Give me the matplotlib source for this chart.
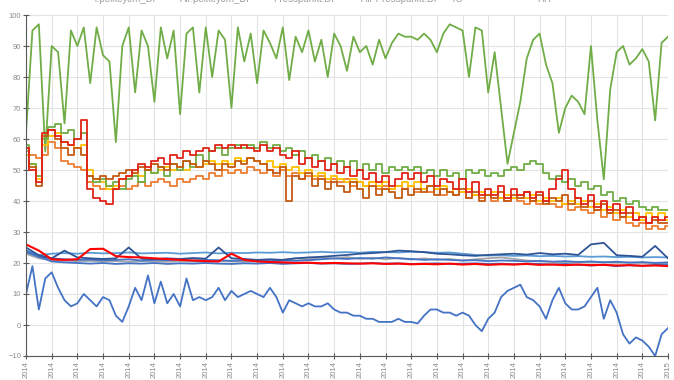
import numpy as np
import matplotlib
matplotlib.use("Agg")
import matplotlib.pyplot as plt

plt.rcParams['font.family'] = ['Liberation Sans', 'DejaVu Sans']

# x positions: 101 samples for detailed series, 51 for the flat ~20 group
x_fine = np.arange(101)
x_coarse = np.arange(0, 101, 2)

tick_labels = ['2014'] * 25 + ['2015']
legend_labels = ['T.pelkeyJm_Di', 'Air.pelkeyJm_Di', 'Presspunkt.Di',
                 'Air Presspunkt.Di', 'TS', 'RH']

rh_top = [62, 95, 97, 56, 90, 88, 65, 95, 90, 96, 78, 96, 87, 85, 59, 90, 96, 75, 95, 90,
          72, 96, 86, 95, 68, 94, 96, 75, 96, 80, 95, 92, 70, 96, 85, 94, 78, 95, 91, 86,
          96, 79, 93, 88, 95, 85, 92, 80, 94, 90, 82, 93, 88, 90, 84, 92, 86, 91, 94, 93,
          93, 92, 94, 92, 88, 94, 97, 96, 95, 80, 96, 95, 75, 88, 70, 52, 62, 72, 86, 92,
          94, 84, 78, 62, 70, 74, 72, 68, 90, 66, 47, 76, 88, 90, 84, 86, 89, 85, 66, 91, 93]

red_mid = [57, 50, 46, 62, 63, 61, 59, 58, 60, 66, 44, 41, 40, 39, 44, 47, 48, 50, 52, 51,
           53, 54, 52, 55, 54, 56, 55, 56, 57, 56, 58, 57, 58, 57, 58, 57, 56, 58, 56, 57,
           55, 54, 56, 52, 54, 51, 53, 50, 52, 49, 51, 48, 50, 47, 49, 46, 48, 45, 47, 49,
           47, 49, 46, 48, 45, 47, 46, 44, 47, 43, 46, 42, 44, 42, 45, 41, 44, 42, 43, 41,
           43, 40, 44, 47, 50, 44, 41, 39, 42, 38, 40, 37, 39, 36, 38, 34, 35, 33, 35, 34, 35]

green_mid = [58, 52, 48, 60, 64, 65, 62, 63, 60, 62, 48, 46, 47, 45, 46, 44, 47, 48, 46, 50,
             49, 51, 48, 52, 50, 53, 51, 55, 53, 56, 57, 55, 57, 58, 57, 58, 57, 59, 57, 58,
             56, 57, 55, 56, 54, 55, 53, 54, 52, 53, 51, 53, 50, 52, 50, 52, 49, 51, 50, 51,
             50, 51, 49, 50, 48, 50, 48, 49, 47, 50, 49, 50, 48, 49, 48, 50, 51, 50, 52, 53,
             52, 49, 47, 48, 46, 47, 45, 46, 44, 45, 42, 43, 40, 41, 39, 40, 38, 37, 38, 37, 37]

yellow_mid = [55, 52, 47, 58, 61, 62, 59, 58, 57, 58, 50, 47, 46, 44, 45, 47, 48, 49, 48, 50,
              49, 50, 51, 50, 51, 50, 52, 51, 52, 53, 52, 53, 52, 54, 53, 54, 53, 52, 53, 51,
              52, 50, 51, 49, 50, 48, 49, 47, 48, 47, 46, 47, 46, 45, 46, 45, 46, 44, 45, 46,
              45, 46, 44, 45, 44, 45, 43, 44, 43, 44, 42, 43, 42, 43, 41, 42, 41, 42, 41, 42,
              40, 41, 40, 41, 39, 40, 39, 40, 38, 39, 37, 38, 36, 37, 35, 36, 34, 36, 35, 36, 34]

brown_mid = [57, 51, 45, 61, 63, 60, 57, 55, 57, 55, 48, 47, 48, 47, 48, 49, 50, 49, 51, 50,
             52, 51, 50, 52, 51, 53, 52, 51, 53, 52, 50, 52, 51, 53, 52, 54, 53, 52, 50, 49,
             51, 40, 48, 47, 49, 45, 47, 44, 46, 45, 43, 46, 44, 41, 45, 42, 44, 43, 41, 44,
             42, 44, 43, 45, 42, 44, 43, 42, 44, 41, 43, 40, 42, 41, 43, 40, 42, 41, 43, 40,
             42, 39, 41, 40, 42, 39, 41, 38, 40, 37, 39, 36, 37, 35, 36, 34, 35, 33, 34, 33, 33]

orange_mid = [56, 55, 54, 55, 59, 57, 53, 52, 51, 50, 46, 45, 44, 45, 44, 45, 44, 45, 46, 45,
              46, 47, 46, 45, 47, 46, 47, 48, 47, 49, 48, 50, 49, 50, 49, 51, 50, 49, 50, 48,
              50, 48, 49, 47, 48, 47, 48, 46, 47, 46, 47, 45, 46, 45, 46, 44, 45, 44, 45, 44,
              45, 43, 44, 43, 44, 42, 43, 42, 43, 41, 42, 41, 42, 40, 41, 40, 41, 40, 39, 40,
              39, 40, 39, 38, 39, 37, 38, 37, 36, 37, 35, 36, 34, 35, 33, 32, 33, 31, 32, 31, 32]

blue_low = [10, 19, 5, 15, 17, 12, 8, 6, 7, 10, 8, 6, 9, 8, 3, 1, 6, 12, 8, 16,
            7, 14, 7, 10, 6, 15, 8, 9, 8, 9, 12, 8, 11, 9, 10, 11, 10, 9, 12, 9,
            4, 8, 7, 6, 7, 6, 6, 7, 5, 4, 4, 3, 3, 2, 2, 1, 1, 1, 2, 1,
            1, 0.5, 3, 5, 5, 4, 4, 3, 4, 3, 0, -2, 2, 4, 9, 11, 12, 13, 9, 8,
            6, 2, 8, 12, 7, 5, 5, 6, 9, 12, 2, 8, 4, -3, -6, -4, -5, -7, -10, -3, -1]

light_blue = [24, 22.5, 23, 23.2, 23, 23.3, 23.1, 23.2, 23.4, 23.1, 23.2, 23.3, 23.0, 23.2,
              23.4, 23.1, 23.3, 23.2, 23.4, 23.3, 23.5, 23.3, 23.4, 23.6, 23.4, 23.5, 23.3,
              23.6, 23.5, 23.4, 23.6, 23.5, 23.3, 23.4, 23.0, 22.6, 22.4, 22.5, 22.3, 22.4,
              22.2, 22.3, 22.1, 22.2, 22.0, 22.1, 21.9, 22.0, 21.8, 21.9, 21.8]

dark_blue = [25, 22.5, 21.5, 24, 21.8, 21.5, 21.3, 21.5, 25, 21.4, 21.2, 21.5, 21.3, 21.6,
             21.4, 25, 21.5, 21.3, 21.0, 21.2, 21.0, 21.5, 21.8, 22.0, 22.3, 22.6, 23.0,
             23.2, 23.5, 24.0, 23.8, 23.5, 23.0, 22.8, 22.5, 22.3, 22.6, 22.8, 23.0, 22.7,
             23.2, 22.8, 23.0, 22.6, 26, 26.5, 22.5, 22.3, 22.0, 25.5, 21.5]

mid_blue = [23.5, 22, 20.5, 20.2, 20.0, 19.8, 20.0, 19.7, 19.9, 19.8, 20.0, 19.7, 19.9, 19.8,
            20.0, 19.8, 19.7, 19.9, 19.8, 20.0, 19.7, 19.9, 20.0, 19.8, 19.9, 19.7, 19.8,
            20.0, 19.8, 19.9, 19.7, 19.8, 19.9, 19.7, 19.8, 19.9, 19.7, 19.8, 19.6, 19.8,
            19.7, 19.5, 19.7, 19.4, 19.2, 19.4, 19.0, 19.3, 19.1, 19.4, 19.5]

steel_blue = [24, 22, 21.5, 21.2, 21.0, 21.1, 20.9, 21.0, 21.2, 20.8, 21.0, 20.9, 21.1, 20.8,
              21.0, 20.9, 20.7, 20.9, 20.8, 20.6, 20.8, 20.7, 20.9, 21.2, 21.5, 21.3, 21.6,
              21.4, 21.8, 21.5, 21.3, 21.0, 21.2, 21.0, 20.8, 20.9, 20.6, 20.8, 20.7, 20.5,
              20.7, 20.4, 20.6, 20.3, 20.5, 20.2, 20.4, 20.1, 20.3, 20.0, 20.2]

grey_line = [23, 21.5, 21, 20.8, 20.6, 20.7, 20.5, 20.6, 20.4, 20.6, 20.5, 20.4, 20.6, 20.5,
             20.4, 20.6, 20.5, 20.4, 20.6, 20.5, 21.0, 21.5, 21.2, 21.8, 21.4, 21.9, 21.3,
             21.7, 21.2, 21.6, 21.1, 21.5, 21.0, 21.3, 20.8, 21.2, 21.5, 21.8, 21.3, 20.8,
             20.5, 20.4, 20.3, 20.4, 20.2, 20.3, 20.1, 20.2, 20.0, 20.1, 20.0]

red_low = [26, 24, 21.2, 21.0, 21.2, 24.5, 24.6, 22.2, 21.9, 21.8, 21.5, 21.3, 21.0, 20.8,
           20.6, 20.5, 23.0, 21.0, 20.5, 20.3, 20.2, 20.0, 20.1, 19.9, 20.0, 19.9, 19.8,
           19.9, 19.7, 19.8, 19.6, 19.7, 19.6, 19.8, 19.5, 19.7, 19.4, 19.6, 19.5, 19.7,
           19.4, 19.5, 19.3, 19.5, 19.3, 19.4, 19.2, 19.3, 19.1, 19.2, 19.0]

fig = plt.figure(figsize=(6.74, 3.80), dpi=100)
ax = fig.add_axes([26 / 674, 1 - 356 / 380, 642 / 674, 341 / 380])

lw = 1.3
ax.plot(x_fine, rh_top, color='#70ad47', lw=lw)
ax.plot(x_fine, orange_mid, color='#ed7d31', lw=lw, drawstyle='steps-mid')
ax.plot(x_fine, yellow_mid, color='#ffc000', lw=lw, drawstyle='steps-mid')
ax.plot(x_fine, green_mid, color='#70ad47', lw=lw, drawstyle='steps-mid')
ax.plot(x_fine, brown_mid, color='#c55a11', lw=lw, drawstyle='steps-mid')
ax.plot(x_fine, red_mid, color='#e02418', lw=lw, drawstyle='steps-mid')

ax.plot(x_coarse, grey_line, color='#a5a5a5', lw=lw)
ax.plot(x_coarse, light_blue, color='#5b9bd5', lw=lw)
ax.plot(x_coarse, steel_blue, color='#4472c4', lw=lw)
ax.plot(x_coarse, mid_blue, color='#4472c4', lw=lw)
ax.plot(x_coarse, dark_blue, color='#2f5597', lw=lw)
ax.plot(x_coarse, red_low, color='#ff0000', lw=1.5)
ax.plot(x_fine, blue_low, color='#4472c4', lw=lw)

ax.set_xlim(0, 100)
ax.set_ylim(-10, 100)
ax.set_yticks(np.arange(-10, 101, 10))
ax.set_xticks(np.arange(0, 101, 4))
ax.set_xticklabels(tick_labels, rotation=90)
ax.tick_params(labelsize=5.5, colors='#595959', direction='inout', length=5, width=0.8, pad=1)
ax.tick_params(axis='both', labelcolor='#8c8c8c')
ax.grid(True, color='#e3e3e3', lw=0.8)
ax.set_axisbelow(True)
for s in ['top', 'right']:
    ax.spines[s].set_visible(False)
ax.spines['left'].set_color('#595959')
ax.spines['bottom'].set_color('#595959')

# legend row, cut off by the top edge of the image
legend_x = [93, 180, 273, 361, 451, 537]
for lx, lab in zip(legend_x, legend_labels):
    fig.text(lx / 674, 1 - 1.5 / 380, lab, fontsize=7, color='#a0a0a0', va='baseline')

fig.savefig('out.png', dpi=100)
